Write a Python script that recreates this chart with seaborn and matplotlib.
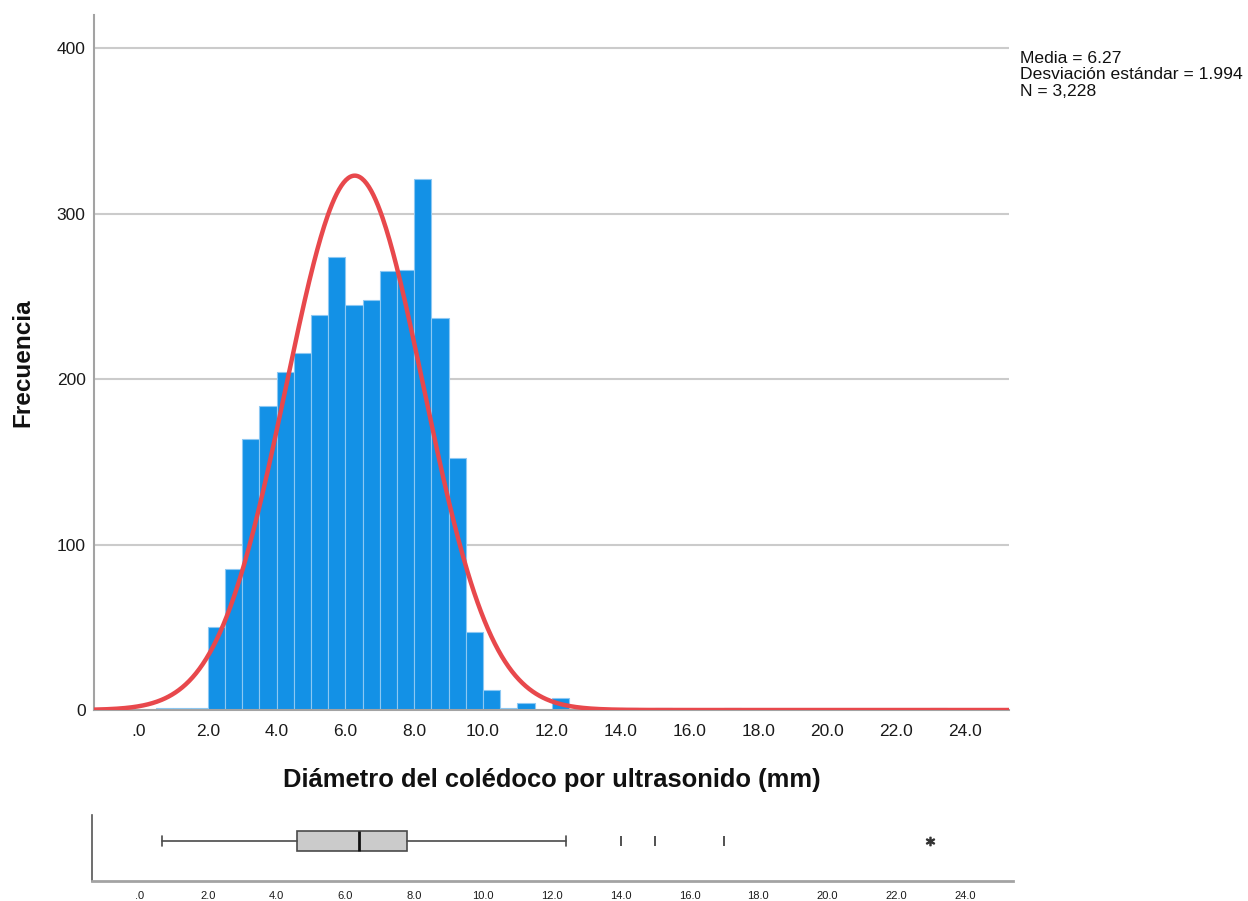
import numpy as np
import pandas as pd
import matplotlib
matplotlib.use("Agg")
import matplotlib.pyplot as plt
import seaborn as sns

# Histogram: left edge of each 0.5 mm bin and its frequency
bin_left = [0.5, 1.0, 1.5, 2.0, 2.5, 3.0, 3.5, 4.0, 4.5, 5.0, 5.5, 6.0, 6.5,
            7.0, 7.5, 8.0, 8.5, 9.0, 9.5, 10.0, 10.5, 11.0, 11.5, 12.0,
            14.0, 15.0, 17.0, 23.0]
counts = [1, 1, 1, 50, 85, 164, 184, 204, 216, 239, 274, 245, 248,
          265, 266, 321, 237, 152, 47, 12, 1, 4, 0, 7,
          1, 1, 1, 1]
bin_width = 0.5

# Summary statistics
media = 6.27
desviacion = 1.994
n_total = 3228

# Box plot summary (mm)
whisker_low = 0.66
q1 = 4.6
mediana = 6.4
q3 = 7.8
whisker_high = 12.4
outliers = [14.0, 15.0, 17.0]
extremes = [23.0]

x_ticks = [0, 2, 4, 6, 8, 10, 12, 14, 16, 18, 20, 22, 24]
x_tick_labels = [".0", "2.0", "4.0", "6.0", "8.0", "10.0", "12.0", "14.0",
                 "16.0", "18.0", "20.0", "22.0", "24.0"]
y_ticks = [0, 100, 200, 300, 400]

sns.set_theme(style="white")
plt.rcParams["font.family"] = ["Liberation Sans", "DejaVu Sans"]

W, H = 1248, 901
fig = plt.figure(figsize=(W / 100, H / 100), dpi=100)

def frac(x0, y0, x1, y1):
    return [x0 / W, 1 - y1 / H, (x1 - x0) / W, (y1 - y0) / H]

ax = fig.add_axes(frac(94, 15, 1009, 710))
bx = fig.add_axes(frac(92.3, 815, 1013.3, 881))

xlim_main = (-1.31, 25.29)
xlim_box = (-1.36, 25.41)

BLUE = "#1391e6"
RED = "#e8484c"
GRID = "#cbcbcb"
SPINE = "#a3a3a3"

df = pd.DataFrame({"x": np.array(bin_left) + bin_width / 2, "n": counts})
sns.histplot(data=df, x="x", weights="n", binwidth=bin_width,
             binrange=(0.5, 23.5), color=BLUE, alpha=1.0,
             edgecolor="#8cc8f3", linewidth=0.8, ax=ax, zorder=2)
for p in ax.patches:
    if p.get_height() <= 0:
        p.set_visible(False)

# Fitted normal curve scaled to the histogram
xs = np.linspace(xlim_main[0], xlim_main[1], 800)
ys = n_total * bin_width * np.exp(-0.5 * ((xs - media) / desviacion) ** 2) / (desviacion * np.sqrt(2 * np.pi))
sns.lineplot(x=xs, y=ys, color=RED, linewidth=3.2, ax=ax, zorder=4)

ax.set_xlim(*xlim_main)
ax.set_ylim(0, 420)
ax.set_xticks(x_ticks)
ax.set_xticklabels(x_tick_labels)
ax.set_yticks(y_ticks)
ax.set_yticklabels([str(v) for v in y_ticks])
ax.tick_params(axis="both", length=0, labelsize=12.5, colors="#1a1a1a")
ax.tick_params(axis="x", pad=10)
ax.tick_params(axis="y", pad=6)
ax.yaxis.grid(True, color=GRID, linewidth=1.5)
ax.xaxis.grid(False)
ax.set_axisbelow(True)
for s in ["top", "right"]:
    ax.spines[s].set_visible(False)
ax.spines["left"].set_color(SPINE)
ax.spines["left"].set_linewidth(1.5)
ax.spines["bottom"].set_color(SPINE)
ax.spines["bottom"].set_linewidth(1.5)
ax.set_xlabel("Diámetro del colédoco por ultrasonido (mm)", fontsize=18.4,
              fontweight="bold", color="#111111", labelpad=21)
ax.set_ylabel("Frecuencia", fontsize=17.5, fontweight="bold", color="#111111",
              labelpad=16)

fig.text(1020 / W, 1 - 51 / H,
         f"Media = {media:.2f}\nDesviación estándar = {desviacion:.3f}\nN = {n_total:,}",
         fontsize=12.6, color="#111111", va="top", ha="left", linespacing=1.12)

# Box plot beneath the histogram
stats = [{"med": mediana, "q1": q1, "q3": q3, "whislo": whisker_low,
          "whishi": whisker_high, "fliers": []}]
bx.bxp(stats, positions=[0], widths=0.312, orientation="horizontal",
       patch_artist=True, showfliers=False, capwidths=0.16,
       boxprops=dict(facecolor="#cbcbcb", edgecolor="#4a4a4a", linewidth=1.2),
       medianprops=dict(color="#111111", linewidth=2.0),
       whiskerprops=dict(color="#4a4a4a", linewidth=1.2),
       capprops=dict(color="#4a4a4a", linewidth=1.2))
bx.plot(outliers, [0] * len(outliers), linestyle="none", marker="|",
        markersize=7, markeredgewidth=1.2, color="#333333")
bx.plot(extremes, [0] * len(extremes), linestyle="none", marker="$*$",
        markersize=6, color="#333333")
bx.set_xlim(*xlim_box)
bx.set_ylim(-0.606, 0.394)
bx.set_yticks([])
bx.set_xticks(x_ticks)
bx.set_xticklabels(x_tick_labels)
bx.tick_params(axis="x", length=0, labelsize=8, pad=7, colors="#1a1a1a")
for s in ["top", "right"]:
    bx.spines[s].set_visible(False)
bx.spines["left"].set_color("#555555")
bx.spines["left"].set_linewidth(1.2)
bx.spines["bottom"].set_color(SPINE)
bx.spines["bottom"].set_linewidth(2.0)
bx.set_facecolor("white")

fig.savefig("out.png", dpi=100, facecolor="white")
